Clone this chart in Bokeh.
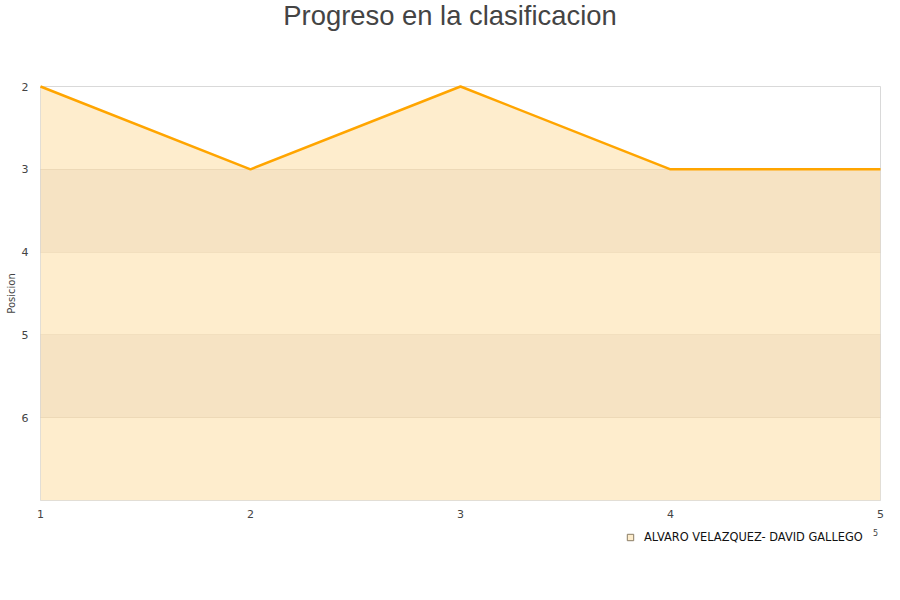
from bokeh.plotting import figure
from bokeh.models import Range1d, FixedTicker, Legend, LegendItem, Label
from bokeh.layouts import column
from bokeh.embed import file_html
from bokeh.resources import INLINE

# data
jornadas = [1, 2, 3, 4, 5]
posicion = [2, 3, 2, 3, 3]
serie = "ALVARO VELAZQUEZ- DAVID GALLEGO"
titulo = "Progreso en la clasificacion"
y_ticks = [2, 3, 4, 5, 6]
x_ticks = [1, 2, 3, 4, 5]
y_min, y_max = 2, 7


def strip(h):
    f = figure(width=900, height=h, output_backend="svg", toolbar_location=None,
               x_axis_type=None, y_axis_type=None, min_border=0,
               x_range=Range1d(0, 1), y_range=Range1d(0, 1))
    f.outline_line_color = None
    f.background_fill_color = "white"
    f.border_fill_color = "white"
    return f


# title strip
t = strip(80)
t.add_layout(Label(x=409.5, y=65, x_units="screen", y_units="screen", text=titulo,
                   text_font="Liberation Sans", text_font_size="27.4px", text_color="#444444",
                   text_align="center", text_baseline="middle"))

# main chart
p = figure(width=900, height=445, output_backend="svg", toolbar_location=None,
           x_range=Range1d(1, 5), y_range=Range1d(y_max, y_min),
           min_border_left=40, min_border_right=20, min_border_top=6, min_border_bottom=25)
p.background_fill_color = "white"
p.border_fill_color = "white"
p.outline_line_color = "#d9d9d9"
p.outline_line_width = 1

area = p.varea(x=jornadas, y1=posicion, y2=y_max, fill_color="#feedcd")
line = p.line(x=jornadas, y=posicion, line_color="#ffa500", line_width=2.5, level="overlay")

p.xgrid.visible = False
p.ygrid.ticker = FixedTicker(ticks=y_ticks)
p.ygrid.level = "guide"
p.ygrid.grid_line_color = "#ae9369"
p.ygrid.grid_line_alpha = 0.15
p.ygrid.band_fill_color = "#ae9369"
p.ygrid.band_fill_alpha = 0.1

for ax in (p.xaxis[0], p.yaxis[0]):
    ax.axis_line_color = None
    ax.major_tick_line_color = None
    ax.minor_tick_line_color = None
    ax.major_label_text_font = "DejaVu Sans"
    ax.major_label_text_font_size = "11px"
    ax.major_label_text_color = "#444444"

p.xaxis[0].major_label_standoff = 3
p.yaxis[0].major_label_standoff = 6
p.xaxis[0].ticker = FixedTicker(ticks=x_ticks)
p.yaxis[0].ticker = FixedTicker(ticks=y_ticks)
p.yaxis[0].axis_label = "Posicion"
p.yaxis[0].axis_label_text_font = "DejaVu Sans"
p.yaxis[0].axis_label_text_font_size = "10px"
p.yaxis[0].axis_label_text_font_style = "normal"
p.yaxis[0].axis_label_text_color = "#444444"
p.yaxis[0].axis_label_standoff = 2

# legend strip below the chart (the swatch renderer's point lies outside this strip's range)
q = strip(75)
swatch = q.scatter(x=[y_max], y=[y_max], marker="square", size=8,
                   fill_color="#feedcd", line_color="#8a7d66")
legend = Legend(items=[LegendItem(label=serie, renderers=[swatch])],
                location=(582, 55), orientation="horizontal",
                glyph_width=16, glyph_height=16, label_standoff=6, padding=0, margin=0,
                border_line_color=None, background_fill_alpha=0,
                label_text_font="DejaVu Sans", label_text_font_size="11.4px",
                label_text_color="#111111")
q.add_layout(legend, "center")
q.add_layout(Label(x=835, y=68, x_units="screen", y_units="screen", text="5",
                   text_font="DejaVu Sans", text_font_size="8px", text_color="#444444",
                   text_align="center", text_baseline="middle"))

open("out.html", "w").write(file_html(column(t, p, q, spacing=0), INLINE))
